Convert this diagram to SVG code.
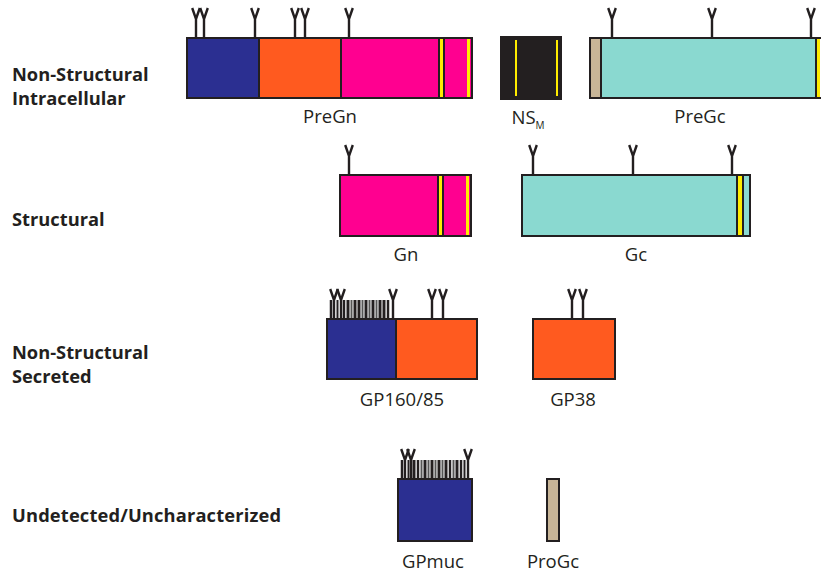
<svg xmlns="http://www.w3.org/2000/svg" width="821" height="574" viewBox="0 0 821 574">
<defs>
<style>
.box{stroke:#231f20;stroke-width:2}
.blue{fill:#2b2f91}.orange{fill:#ff5a1f}.pink{fill:#ff0090}.teal{fill:#8ad9d0}.tan{fill:#c8b597}.blk{fill:#231f20}
.yel{fill:#ffec00}
.ylin{stroke:#ffec00;stroke-width:2}
.gly{fill:none;stroke:#231f20;stroke-width:2.4}
.bar{stroke:#231f20}
.barg{stroke:#555}
.lab{font-family:"Open Sans","Liberation Sans",sans-serif;font-size:18.5px;fill:#231f20;text-anchor:middle}
.cat{font-family:"Open Sans","Liberation Sans",sans-serif;font-size:18.3px;font-weight:bold;fill:#231f20}
</style>
<path id="y" d="M0,0 V-18 M-3.8,-29 L0,-18 L3.8,-29"/>
</defs>

<g id="categories">
<text class="cat" x="12" y="81">Non-Structural</text>
<text class="cat" x="12" y="105">Intracellular</text>
<text class="cat" x="12" y="226">Structural</text>
<text class="cat" x="12" y="359">Non-Structural</text>
<text class="cat" x="12" y="383">Secreted</text>
<text class="cat" x="12" y="522" textLength="269" lengthAdjust="spacing">Undetected/Uncharacterized</text>
</g>

<g id="connectors"></g>

<g id="PreGn">
<rect class="blue" x="187" y="38" width="72" height="60"/>
<rect class="orange" x="259" y="38" width="82" height="60"/>
<rect class="pink" x="341" y="38" width="131" height="60"/>
<rect class="yel" x="440" y="38" width="3" height="60"/>
<rect class="yel" x="467" y="38" width="3" height="60"/>
<line class="box" x1="259" y1="38" x2="259" y2="98"/>
<line class="box" x1="341" y1="38" x2="341" y2="98"/>
<line class="box" x1="439" y1="38" x2="439" y2="98" stroke-width="1"/>
<line class="box" x1="444" y1="38" x2="444" y2="98" stroke-width="1"/>
<rect class="box" x="187" y="38" width="285" height="60" fill="none"/>
<g class="gly">
<use href="#y" x="196" y="37"/><use href="#y" x="204" y="37"/><use href="#y" x="255" y="37"/>
<use href="#y" x="295" y="37"/><use href="#y" x="305" y="37"/><use href="#y" x="349" y="37"/>
</g>
<text class="lab" x="330" y="123">PreGn</text>
</g>

<g id="NSM">
<rect class="box blk" x="501" y="37" width="60" height="62"/>
<line class="ylin" x1="516" y1="40" x2="516" y2="96"/>
<line class="ylin" x1="557" y1="40" x2="557" y2="96"/>
<text class="lab" x="528" y="124">NS<tspan font-size="10" dy="5">M</tspan></text>
</g>

<g id="PreGc">
<rect class="teal" x="590" y="38" width="226" height="60"/>
<rect class="tan" x="590" y="38" width="11" height="60"/>
<rect class="yel" x="816" y="38" width="4" height="60"/>
<line class="box" x1="601" y1="38" x2="601" y2="98"/>
<line class="box" x1="816" y1="38" x2="816" y2="98"/>
<rect class="box" x="590" y="38" width="232" height="60" fill="none"/>
<g class="gly">
<use href="#y" x="612" y="37"/><use href="#y" x="712" y="37"/><use href="#y" x="811" y="37"/>
</g>
<text class="lab" x="700" y="123">PreGc</text>
</g>

<g id="Gn">
<rect class="pink" x="340" y="175" width="131" height="61"/>
<rect class="yel" x="439" y="175" width="3" height="61"/>
<rect class="yel" x="466" y="175" width="3" height="61"/>
<line class="box" x1="438" y1="175" x2="438" y2="236" stroke-width="1"/>
<line class="box" x1="443" y1="175" x2="443" y2="236" stroke-width="1"/>
<rect class="box" x="340" y="175" width="131" height="61" fill="none"/>
<g class="gly"><use href="#y" x="349" y="174"/></g>
<text class="lab" x="406" y="261">Gn</text>
</g>

<g id="Gc">
<rect class="teal" x="522" y="175" width="228" height="61"/>
<rect class="yel" x="738" y="175" width="4" height="61"/>
<line class="box" x1="737" y1="175" x2="737" y2="236"/>
<line class="box" x1="743" y1="175" x2="743" y2="236"/>
<rect class="box" x="522" y="175" width="228" height="61" fill="none"/>
<g class="gly">
<use href="#y" x="533" y="174"/><use href="#y" x="633" y="174"/><use href="#y" x="732" y="174"/>
</g>
<text class="lab" x="636" y="261">Gc</text>
</g>

<g id="GP160-85">
<rect class="blue" x="327" y="319" width="69" height="60"/>
<rect class="orange" x="396" y="319" width="81" height="60"/>
<line class="box" x1="396" y1="319" x2="396" y2="379"/>
<rect class="box" x="327" y="319" width="150" height="60" fill="none"/>
<g>
<line class="bar" x1="331" y1="300" x2="331" y2="318" stroke-width="2.5"/>
<line class="bar" x1="337.5" y1="300" x2="337.5" y2="318" stroke-width="2"/>
<line class="bar" x1="344" y1="300" x2="344" y2="318" stroke-width="2.5"/>
<line class="bar" x1="348" y1="300" x2="348" y2="318" stroke-width="3"/>
<line class="barg" x1="351.5" y1="300" x2="351.5" y2="318" stroke-width="2"/>
<line class="bar" x1="355" y1="300" x2="355" y2="318" stroke-width="3"/>
<line class="bar" x1="359" y1="300" x2="359" y2="318" stroke-width="3"/>
<line class="barg" x1="362.5" y1="300" x2="362.5" y2="318" stroke-width="2"/>
<line class="bar" x1="366" y1="300" x2="366" y2="318" stroke-width="3"/>
<line class="barg" x1="369.5" y1="300" x2="369.5" y2="318" stroke-width="2"/>
<line class="bar" x1="373" y1="300" x2="373" y2="318" stroke-width="3"/>
<line class="barg" x1="376.5" y1="300" x2="376.5" y2="318" stroke-width="2"/>
<line class="bar" x1="380" y1="300" x2="380" y2="318" stroke-width="3"/>
<line class="bar" x1="384" y1="300" x2="384" y2="318" stroke-width="3"/>
<line class="bar" x1="388" y1="300" x2="388" y2="318" stroke-width="2.5"/>
</g>
<g class="gly">
<use href="#y" x="334" y="318"/><use href="#y" x="341" y="318"/><use href="#y" x="393" y="318"/>
<use href="#y" x="432" y="318"/><use href="#y" x="443" y="318"/>
</g>
<text class="lab" x="402" y="406">GP160/85</text>
</g>

<g id="GP38">
<rect class="box orange" x="533" y="319" width="82" height="60"/>
<g class="gly"><use href="#y" x="572" y="318"/><use href="#y" x="583" y="318"/></g>
<text class="lab" x="573" y="406">GP38</text>
</g>

<g id="GPmuc">
<rect class="box blue" x="398" y="479" width="74" height="62"/>
<g>
<line class="bar" x1="402" y1="460" x2="402" y2="478" stroke-width="2.5"/>
<line class="bar" x1="408.5" y1="460" x2="408.5" y2="478" stroke-width="2"/>
<line class="bar" x1="414" y1="460" x2="414" y2="478" stroke-width="3"/>
<line class="bar" x1="418" y1="460" x2="418" y2="478" stroke-width="2.5"/>
<line class="barg" x1="421.5" y1="460" x2="421.5" y2="478" stroke-width="2"/>
<line class="bar" x1="425" y1="460" x2="425" y2="478" stroke-width="3"/>
<line class="barg" x1="428.5" y1="460" x2="428.5" y2="478" stroke-width="2"/>
<line class="bar" x1="432" y1="460" x2="432" y2="478" stroke-width="3"/>
<line class="barg" x1="435.5" y1="460" x2="435.5" y2="478" stroke-width="2"/>
<line class="bar" x1="439" y1="460" x2="439" y2="478" stroke-width="3"/>
<line class="barg" x1="442.5" y1="460" x2="442.5" y2="478" stroke-width="2"/>
<line class="bar" x1="446" y1="460" x2="446" y2="478" stroke-width="3"/>
<line class="bar" x1="450" y1="460" x2="450" y2="478" stroke-width="2.5"/>
<line class="barg" x1="453.5" y1="460" x2="453.5" y2="478" stroke-width="2"/>
<line class="bar" x1="457" y1="460" x2="457" y2="478" stroke-width="3"/>
<line class="bar" x1="461" y1="460" x2="461" y2="478" stroke-width="2.5"/>
<line class="bar" x1="464.5" y1="460" x2="464.5" y2="478" stroke-width="2"/>
</g>
<g class="gly">
<use href="#y" x="405" y="478"/><use href="#y" x="411" y="478"/><use href="#y" x="468" y="478"/>
</g>
<text class="lab" x="433" y="568">GPmuc</text>
</g>

<g id="ProGc">
<rect class="box tan" x="547" y="479" width="12" height="62"/>
<text class="lab" x="553" y="568">ProGc</text>
</g>
</svg>
